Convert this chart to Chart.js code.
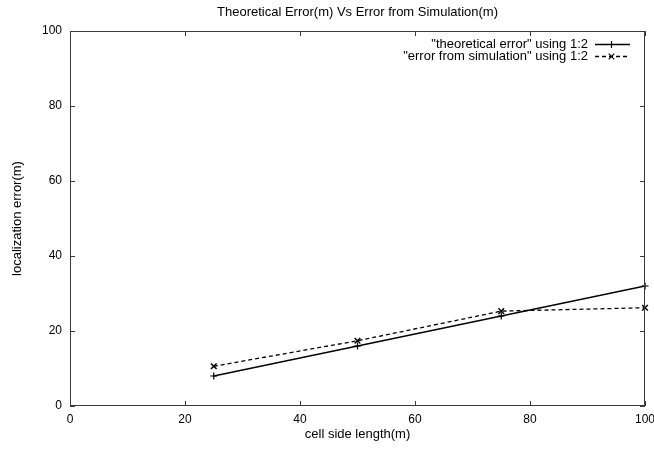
<!DOCTYPE html>
<html>
<head>
<meta charset="utf-8">
<script src="https://cdn.jsdelivr.net/npm/chart.js@4/dist/chart.umd.min.js"></script>
<style>
html,body{margin:0;padding:0;background:#fff;}
#wrap{width:654px;height:450px;}
</style>
</head>
<body>
<div id="wrap"><canvas id="c" width="654" height="450"></canvas></div>
<script>
const cellSide = [25, 50, 75, 100];
const theoreticalError = [8, 16, 24, 32];
const simulationError = [10.6, 17.4, 25.3, 26.2];
const xTicks = [0, 20, 40, 60, 80, 100];
const yTicks = [0, 20, 40, 60, 80, 100];
const titleText = 'Theoretical Error(m) Vs Error from Simulation(m)';
const legendLabels = ['"theoretical error" using 1:2', '"error from simulation" using 1:2'];

const FONT = 'Liberation Sans, Arial, Helvetica, sans-serif';

const framePlugin = {
  id: 'frame',
  afterDatasetsDraw(chart) {
    const {ctx, chartArea: a, scales} = chart;
    ctx.save();
    ctx.strokeStyle = '#3a3a3a';
    ctx.lineWidth = 1;
    ctx.strokeRect(Math.round(a.left) + 0.5, Math.round(a.top) + 0.5,
                   Math.round(a.right - a.left) - 1, Math.round(a.bottom - a.top) - 1);
    const L = 5;
    ctx.beginPath();
    scales.x.ticks.forEach(t => {
      const px = Math.round(scales.x.getPixelForValue(t.value)) + 0.5;
      ctx.moveTo(px, a.bottom); ctx.lineTo(px, a.bottom - L);
      ctx.moveTo(px, a.top); ctx.lineTo(px, a.top + L);
    });
    scales.y.ticks.forEach(t => {
      const py = Math.round(scales.y.getPixelForValue(t.value)) + 0.5;
      ctx.moveTo(a.left, py); ctx.lineTo(a.left + L, py);
      ctx.moveTo(a.right, py); ctx.lineTo(a.right - L, py);
    });
    ctx.stroke();
    ctx.restore();
  },
  afterDraw(chart) {
    const {ctx, chartArea: a} = chart;
    ctx.save();
    ctx.fillStyle = '#000';
    ctx.font = '13px ' + FONT;
    ctx.textAlign = 'center';
    ctx.textBaseline = 'middle';
    ctx.fillText(titleText, (a.left + a.right) / 2, 12);
    // legend
    const rows = [44, 56];
    chart.data.datasets.forEach((ds, i) => {
      const y = rows[i];
      ctx.textAlign = 'right';
      ctx.fillStyle = '#000';
      ctx.fillText(ds.label, 588, y);
      ctx.beginPath();
      ctx.strokeStyle = ds.borderColor;
      ctx.lineWidth = ds.borderWidth;
      ctx.setLineDash(ds.borderDash || []);
      ctx.moveTo(595, y + 0.5); ctx.lineTo(630, y + 0.5);
      ctx.stroke();
      ctx.setLineDash([]);
      // marker
      const r = 3.5, cx = 611.5, cy = y + 0.5;
      ctx.beginPath();
      ctx.lineWidth = 1.2;
      if (ds.pointStyle === 'cross') {
        ctx.moveTo(cx - r, cy); ctx.lineTo(cx + r, cy);
        ctx.moveTo(cx, cy - r); ctx.lineTo(cx, cy + r);
      } else {
        const d = r * 0.8;
        ctx.moveTo(cx - d, cy - d); ctx.lineTo(cx + d, cy + d);
        ctx.moveTo(cx - d, cy + d); ctx.lineTo(cx + d, cy - d);
      }
      ctx.stroke();
    });
    ctx.restore();
  }
};

new Chart(document.getElementById('c'), {
  type: 'line',
  data: {
    datasets: [
      {
        label: legendLabels[0],
        data: cellSide.map((x, i) => ({x, y: theoreticalError[i]})),
        borderColor: '#000',
        borderWidth: 1.3,
        pointStyle: 'cross',
        pointRadius: 3.5,
        pointBorderWidth: 1.2,
        pointBorderColor: '#000',
        pointBackgroundColor: '#000',
        tension: 0,
        clip: false
      },
      {
        label: legendLabels[1],
        data: cellSide.map((x, i) => ({x, y: simulationError[i]})),
        borderColor: '#000',
        borderWidth: 1.3,
        borderDash: [4, 3],
        pointStyle: 'crossRot',
        pointRadius: 4,
        pointBorderWidth: 1.5,
        pointBorderColor: '#000',
        pointBackgroundColor: '#000',
        tension: 0,
        clip: false
      }
    ]
  },
  options: {
    responsive: false,
    animation: false,
    devicePixelRatio: 1,
    layout: { padding: { top: 31, right: 0, bottom: 0, left: 0 } },
    plugins: {
      legend: { display: false },
      title: { display: false },
      tooltip: { enabled: false }
    },
    scales: {
      x: {
        type: 'linear',
        min: 0, max: 100,
        afterBuildTicks(scale) { scale.ticks = xTicks.map(v => ({value: v})); },
        afterFit(scale) { scale.height = 44; scale.paddingRight = 9; },
        grid: { display: false, drawTicks: false },
        border: { display: false },
        ticks: { color: '#000', font: { family: FONT, size: 12 }, padding: 6, maxRotation: 0 },
        title: { display: true, text: 'cell side length(m)', color: '#000',
                 font: { family: FONT, size: 13 }, padding: { top: 0, bottom: 8 } }
      },
      y: {
        type: 'linear',
        min: 0, max: 100,
        afterBuildTicks(scale) { scale.ticks = yTicks.map(v => ({value: v})); },
        afterFit(scale) { scale.width = 70; },
        grid: { display: false, drawTicks: false },
        border: { display: false },
        ticks: { color: '#000', font: { family: FONT, size: 12 }, padding: 8 },
        title: { display: true, text: 'localization error(m)', color: '#000',
                 font: { family: FONT, size: 13 }, padding: { top: 10, bottom: 0 } }
      }
    }
  },
  plugins: [framePlugin]
});
</script>
</body>
</html>
